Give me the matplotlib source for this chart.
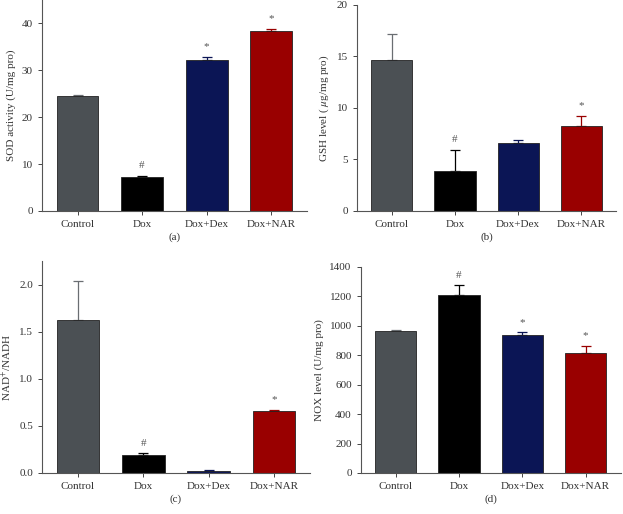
import matplotlib.pyplot as plt
import numpy as np

# data
groups = ["Control", "Dox", "Dox+Dex", "Dox+NAR"]
colors = ["#4b5054", "#000000", "#0b1555", "#990000"]

sod_mean = [24.5, 7.3, 32.1, 38.3]
sod_err = [0.2, 0.2, 0.8, 0.5]
sod_marks = ["", "#", "*", "*"]

gsh_mean = [14.7, 3.85, 6.6, 8.2]
gsh_err = [2.5, 2.1, 0.25, 1.05]
gsh_marks = ["", "#", "", "*"]

nad_mean = [1.63, 0.19, 0.025, 0.66]
nad_err = [0.41, 0.02, 0.005, 0.01]
nad_marks = ["", "#", "", "*"]

nox_mean = [965, 1212, 940, 812]
nox_err = [8, 62, 15, 50]
nox_marks = ["", "#", "*", "*"]

plt.rcParams['font.family'] = ['Liberation Serif', 'DejaVu Serif']
plt.rcParams['mathtext.fontset'] = 'stix'
text_col = "#333333"


def draw_panel(ax, means, errs, marks, ylabel, ylim, yticks, letter, fmt="{:g}"):
    x = np.arange(len(groups))
    ax.bar(x, means, width=0.65, color=colors, edgecolor="#222222", linewidth=0.6, zorder=2)
    for xi, m, e, c in zip(x, means, errs, colors):
        ec = "#6a6e72" if c == colors[0] else c
        ax.errorbar(xi, m, yerr=[[0], [e]], fmt="none", ecolor=ec,
                    elinewidth=0.9, capsize=3.5, capthick=0.9, zorder=1)
    for xi, m, e, mk in zip(x, means, errs, marks):
        if mk:
            ax.annotate(mk, (xi, m + e), xytext=(0, 4), textcoords="offset points",
                        ha="center", va="bottom", fontsize=8, color="#555555")
    ax.set_xlim(-0.55, 3.55)
    ax.set_ylim(*ylim)
    ax.set_yticks(yticks)
    ax.set_yticklabels([fmt.format(t) for t in yticks])
    ax.set_xticks(x)
    ax.set_xticklabels(groups)
    ax.set_ylabel(ylabel, fontsize=8, color=text_col, labelpad=4)
    ax.tick_params(axis="both", labelsize=8, colors="#444444", labelcolor=text_col,
                   length=3, width=0.7, direction="out")
    for s in ["top", "right"]:
        ax.spines[s].set_visible(False)
    for s in ["left", "bottom"]:
        ax.spines[s].set_color("#555555")
        ax.spines[s].set_linewidth(0.8)
    ax.annotate(letter, (0.5, 0), xycoords="axes fraction", xytext=(0, -26),
                textcoords="offset pixels", ha="center", va="center",
                fontsize=8, color=text_col)


fig = plt.figure(figsize=(6.23, 5.14), dpi=100)
ax_a = fig.add_axes([0.0674, 0.5895, 0.425, 0.4105])
ax_b = fig.add_axes([0.573, 0.5895, 0.416, 0.401])
ax_c = fig.add_axes([0.0674, 0.0798, 0.43, 0.412])
ax_d = fig.add_axes([0.579, 0.0798, 0.417, 0.401])

draw_panel(ax_a, sod_mean, sod_err, sod_marks, "SOD activity (U/mg pro)",
           (0, 45), [0, 10, 20, 30, 40], "(a)")
draw_panel(ax_b, gsh_mean, gsh_err, gsh_marks, "GSH level ( $\\mu$g/mg pro)",
           (0, 20), [0, 5, 10, 15, 20], "(b)")
draw_panel(ax_c, nad_mean, nad_err, nad_marks, "NAD$^{+}$/NADH",
           (0, 2.25), [0.0, 0.5, 1.0, 1.5, 2.0], "(c)", fmt="{:.1f}")
draw_panel(ax_d, nox_mean, nox_err, nox_marks, "NOX level (U/mg pro)",
           (0, 1400), [0, 200, 400, 600, 800, 1000, 1200, 1400], "(d)")

fig.savefig("out.png", dpi=100)
